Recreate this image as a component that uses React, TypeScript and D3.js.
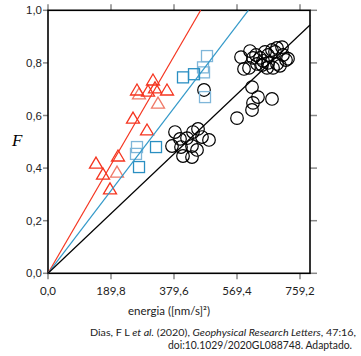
import React from "react";
import * as d3 from "d3";

// ---- data ----
const xTicks = [0, 189.8, 379.6, 569.4, 759.2];
const yTicks = [0, 0.2, 0.4, 0.6, 0.8, 1.0];

// fitted lines: slope of F vs energia
const lineSlopes = [
  { name: "red", slope: 0.002174 },
  { name: "blue", slope: 0.001657 },
  { name: "black", slope: 0.001196 },
];

// red triangles [energia, F]
const redDark: [number, number][] = [
  [268.1, 0.697], [301.3, 0.693], [316.3, 0.735], [322.4, 0.705], [358.5, 0.697],
  [256.1, 0.59], [298.3, 0.545], [210.9, 0.446], [144.6, 0.419], [165.7, 0.377],
  [186.8, 0.321],
];
const redLight: [number, number][] = [
  [274.1, 0.682], [331.4, 0.647], [207.9, 0.385],
];

// blue squares
const blueDark: [number, number][] = [
  [439.9, 0.757], [406.7, 0.745], [325.4, 0.48], [274.2, 0.404],
];
const blueLight: [number, number][] = [
  [479.0, 0.826], [467.0, 0.783], [470.0, 0.764], [473.0, 0.67], [268.1, 0.48], [265.1, 0.454],
];

// black circles
const circles: [number, number][] = [
  [382.6, 0.537], [397.7, 0.511], [373.6, 0.484], [400.7, 0.48], [418.8, 0.514],
  [436.8, 0.537], [451.9, 0.549], [463.9, 0.518], [485.0, 0.507], [433.8, 0.484],
  [448.9, 0.469], [406.7, 0.446], [433.8, 0.442], [470.0, 0.697], [569.4, 0.59],
  [581.5, 0.822], [608.6, 0.845], [590.5, 0.777], [605.6, 0.781], [629.7, 0.796],
  [638.7, 0.819], [653.8, 0.842], [662.8, 0.83], [674.8, 0.849], [683.9, 0.842],
  [689.9, 0.857], [705.0, 0.86], [708.0, 0.83], [717.0, 0.811], [689.9, 0.796],
  [662.8, 0.8], [647.7, 0.808], [644.7, 0.792], [659.8, 0.781], [677.9, 0.781],
  [698.9, 0.789], [723.0, 0.816], [617.6, 0.819], [626.6, 0.83], [614.6, 0.708],
  [632.6, 0.67], [674.8, 0.663], [617.6, 0.648], [614.6, 0.621],
];

const xLabel = "energia ([nm/s]²)";
const yLabel = "F";

export default function App() {
  const W = 361, H = 356;
  const left = 48, right = 310, top = 10.3, bottom = 273.3;
  const x = d3.scaleLinear().domain([0, 789.3]).range([left, right]);
  const y = d3.scaleLinear().domain([0, 1]).range([bottom, top]);
  const fmt = (v: number) => d3.format(".1f")(v).replace(".", ",");
  const tickColor = "#888";
  const tri = (cx: number, cy: number) => {
    const w = 6.5, h = 11;
    return `M${cx},${cy - h / 2 - 0.5}L${cx + w},${cy + h / 2 - 0.5}L${cx - w},${cy + h / 2 - 0.5}Z`;
  };
  const lineEnd = (s: number) => {
    const xmax = x.domain()[1];
    const xe = Math.min(xmax, 1 / s);
    return [xe, xe * s];
  };
  const lineColors: Record<string, string> = { red: "#f5341f", blue: "#3399c9", black: "#000" };
  const capFont = "Lato, 'Open Sans', sans-serif";

  return (
    <svg width={W} height={H} style={{ position: "absolute", left: 0, top: 0, background: "#fff" }}>
      <rect width={W} height={H} fill="#fff" />
      {/* ticks */}
      {xTicks.map((t) => (
        <g key={"xt" + t}>
          <line x1={x(t)} x2={x(t)} y1={bottom} y2={bottom + 6} stroke={tickColor} strokeWidth={1.5} />
          <line x1={x(t)} x2={x(t)} y1={top} y2={top - 6} stroke={tickColor} strokeWidth={1.5} />
          <text x={x(t)} y={294.5} textAnchor="middle" fontSize={11.5} fontFamily={capFont} fill="#222">
            {fmt(t)}
          </text>
        </g>
      ))}
      {yTicks.map((t) => (
        <g key={"yt" + t}>
          <line x1={left - 5} x2={left} y1={y(t)} y2={y(t)} stroke={tickColor} strokeWidth={1.5} />
          <line x1={right} x2={right + 7} y1={y(t)} y2={y(t)} stroke={tickColor} strokeWidth={1.5} />
          <text x={42} y={y(t) + 4} textAnchor="end" fontSize={11.5} fontFamily="'Liberation Sans', Arial, sans-serif" fill="#222">
            {fmt(t)}
          </text>
        </g>
      ))}
      {/* frame */}
      <rect x={left} y={top} width={right - left} height={bottom - top} fill="none" stroke="#000" strokeWidth={1.6} />
      {/* markers */}
      {circles.map(([a, b], i) => (
        <circle key={"c" + i} cx={x(a)} cy={y(b)} r={6.3} fill="none" stroke="#000" strokeWidth={1.2} />
      ))}
      {blueLight.map(([a, b], i) => (
        <rect key={"bl" + i} x={x(a) - 5.5} y={y(b) - 5.5} width={11} height={11} fill="none" stroke="#7fb6d9" strokeWidth={1.3} />
      ))}
      {blueDark.map(([a, b], i) => (
        <rect key={"bd" + i} x={x(a) - 5.5} y={y(b) - 5.5} width={11} height={11} fill="none" stroke="#2a8fc2" strokeWidth={1.3} />
      ))}
      {redLight.map(([a, b], i) => (
        <path key={"rl" + i} d={tri(x(a), y(b))} fill="none" stroke="#f07a68" strokeWidth={1.3} />
      ))}
      {redDark.map(([a, b], i) => (
        <path key={"rd" + i} d={tri(x(a), y(b))} fill="none" stroke="#f5341f" strokeWidth={1.3} />
      ))}
      {/* lines */}
      {lineSlopes.map((l) => {
        const [xe, ye] = lineEnd(l.slope);
        return (
          <line key={l.name} x1={x(0)} y1={y(0)} x2={x(xe)} y2={y(ye)} stroke={lineColors[l.name]} strokeWidth={1.2} />
        );
      })}
      {/* labels */}
      <text x={12} y={146} fontSize={17} fontStyle="italic" fontFamily="'Liberation Serif', 'DejaVu Serif', serif">{yLabel}</text>
      <text x={169} y={315} textAnchor="middle" fontSize={11.5} fontFamily={capFont} fill="#222">{xLabel}</text>
      <text x={90} y={335.5} fontSize={10.3} fontFamily={capFont} fill="#222" textLength={266} lengthAdjust="spacingAndGlyphs">
        Dias, F L <tspan fontStyle="italic">et al.</tspan> (2020), <tspan fontStyle="italic">Geophysical Research Letters</tspan>, 47:16,
      </text>
      <text x={168} y={348.5} fontSize={10.5} fontFamily={capFont} fill="#222" textLength={184} lengthAdjust="spacingAndGlyphs">
        doi:10.1029/2020GL088748. Adaptado.
      </text>
    </svg>
  );
}
